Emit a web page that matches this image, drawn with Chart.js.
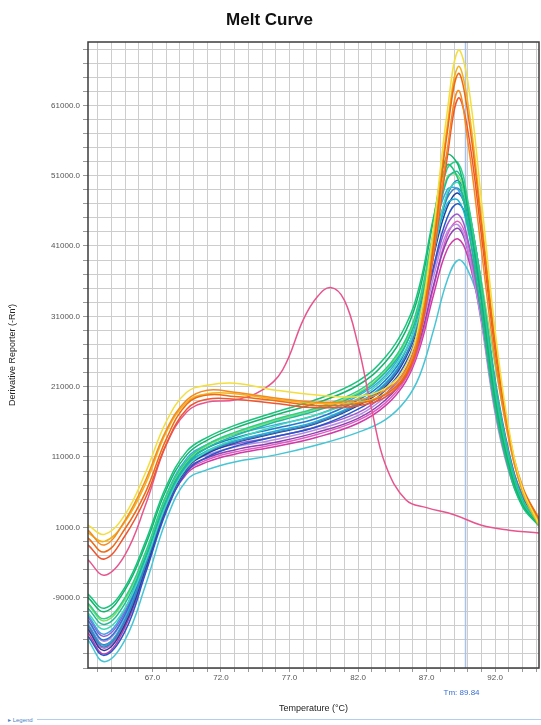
<!DOCTYPE html>
<html>
<head>
<meta charset="utf-8">
<script src="https://cdn.jsdelivr.net/npm/chart.js@4/dist/chart.umd.min.js"></script>
<style>
  html, body { margin: 0; padding: 0; background: #fff; }
  #wrap { width: 541px; height: 714px; position: relative; }
  #legendBar { width: 541px; height: 11px; display: flex; align-items: center; font: 6px "Liberation Sans", Arial, sans-serif; color: #4a7fc8; }
  #legendBar .lbl { padding: 0 4px 0 8px; }
  #legendBar .rule { flex: 1; height: 0; border-top: 1px solid #b3cdee; }
</style>
</head>
<body>
<div id="wrap"><canvas id="meltChart" width="541" height="714"></canvas></div>
<div id="legendBar"><span class="lbl">&#9656; Legend</span><span class="rule"></span></div>
<script>
// temperature grid shared by the wells (°C)
const temps = [62.3, 63.5, 65, 66.5, 68, 69.5, 71, 73, 76, 79, 82, 84, 85.5, 86.5, 87.5, 88.5, 89.3, 90, 91, 92, 93, 94, 95.2];

// orange / yellow wells
const wellO1 = [600, -1500, 2000, 7700, 14800, 19100, 20500, 20200, 19400, 18800, 19100, 20500, 23400, 29000, 40400, 54600, 63100, 56000, 40400, 24800, 13400, 6300, 2000];
const wellO2 = [-500, -2500, 800, 6000, 13500, 18500, 19800, 19600, 19000, 18300, 18600, 19900, 22800, 28500, 41000, 57000, 65500, 60000, 44000, 27000, 14500, 6800, 2200];
const wellY1 = [1300, 0, 2800, 8800, 16000, 20200, 21200, 21500, 20500, 19800, 19600, 20800, 24000, 30500, 43500, 60000, 68800, 64500, 47500, 29000, 15000, 6500, 1500];
const wellY2 = [200, -1000, 1800, 7200, 14500, 18800, 20000, 20000, 19200, 18600, 18800, 20000, 23000, 29500, 42000, 58000, 66500, 61500, 45000, 27500, 14000, 6000, 1200];
const wellR1 = [-1500, -3500, -200, 5200, 12800, 17800, 19200, 19200, 18600, 18000, 18300, 19500, 22500, 28000, 39500, 53500, 62000, 57500, 42500, 26000, 14000, 6500, 2000];

// green / teal wells
const wellG1 = [-9000, -11000, -7900, -1500, 6300, 11300, 13400, 15100, 17000, 18700, 21200, 24500, 29000, 34700, 44700, 53900, 52500, 46100, 33300, 19100, 9900, 4200, 1300];
const wellG2 = [-9800, -12000, -9000, -2500, 5500, 10500, 12800, 14500, 16400, 18000, 20400, 23500, 27800, 33500, 43000, 52000, 52800, 47500, 35000, 20500, 10500, 4500, 1400];
const wellG3 = [-10500, -12800, -9800, -3200, 4800, 10000, 12300, 14000, 16000, 17600, 19900, 23000, 27000, 32500, 41500, 50500, 51500, 47000, 35500, 21500, 11000, 4800, 1500];
const wellG4 = [-8500, -10500, -7500, -1000, 6800, 11800, 13800, 15500, 17400, 19200, 21800, 25200, 29800, 35500, 45000, 52500, 50500, 44000, 31500, 18000, 9200, 3900, 1200];
const wellG5 = [-11200, -13500, -10500, -3800, 4200, 9500, 11800, 13500, 15400, 17000, 19300, 22300, 26300, 31500, 40000, 48500, 50000, 46000, 35000, 21500, 11200, 5000, 1600];
const wellG6 = [-10000, -12300, -9300, -2800, 5200, 10300, 12600, 14300, 16200, 17800, 20100, 23200, 27500, 33000, 42000, 50800, 51000, 46500, 36000, 24000, 14000, 6500, 2200];

// blue wells
const wellB1 = [-12200, -15000, -11400, -3600, 4900, 10300, 12300, 13700, 15100, 16500, 19100, 21900, 26200, 31900, 41100, 48200, 50300, 46800, 35400, 20500, 10600, 4900, 2000];
const wellB2 = [-13500, -16500, -12800, -4800, 3800, 9400, 11500, 13000, 14400, 15800, 18300, 21000, 25200, 30500, 39500, 46500, 48500, 45500, 35000, 21000, 11000, 5200, 2100];
const wellB3 = [-11500, -14200, -10600, -3000, 5500, 10800, 12800, 14200, 15600, 17000, 19700, 22600, 27000, 33000, 42500, 49000, 49000, 44800, 33500, 19500, 10000, 4600, 1800];
const wellB4 = [-14500, -17200, -13800, -5500, 3200, 8900, 11000, 12500, 13900, 15300, 17800, 20500, 24500, 29500, 38000, 45000, 47000, 44500, 35000, 21500, 11500, 5500, 2300];
const wellB5 = [-12800, -15800, -12000, -4200, 4300, 9800, 11900, 13300, 14700, 16100, 18700, 21500, 25600, 31000, 40000, 47000, 47500, 43500, 33000, 19500, 10200, 4800, 1900];
const wellB6 = [-13000, -16000, -12300, -4400, 4000, 9600, 11700, 13100, 14500, 15900, 18500, 21300, 25500, 31000, 40500, 47800, 49200, 46000, 35800, 22000, 11800, 5500, 2200];

// purple / magenta wells
const wellM1 = [-12900, -15700, -12200, -4300, 4200, 9200, 10900, 12000, 13100, 14500, 16500, 19100, 22600, 27600, 35400, 41800, 43500, 40400, 30500, 17700, 9200, 4200, 1300];
const wellM2 = [-14000, -17000, -13200, -5200, 3500, 8600, 10300, 11400, 12500, 13800, 15800, 18300, 21800, 26500, 34000, 40500, 42000, 39500, 30500, 18000, 9500, 4300, 1400];
const wellM3 = [-11800, -14500, -11000, -3400, 5000, 10000, 11700, 12800, 13900, 15300, 17300, 20000, 23600, 29000, 37500, 44000, 45500, 42000, 31500, 18200, 9400, 4300, 1400];
const wellM4 = [-13200, -16200, -12600, -4700, 3900, 8900, 10600, 11700, 12800, 14200, 16200, 18700, 22200, 27000, 35000, 42500, 44500, 41500, 31000, 18000, 9300, 4300, 1400];
const wellM5 = [-12400, -15200, -11600, -3800, 4600, 9600, 11300, 12400, 13500, 14900, 16900, 19600, 23200, 28300, 36500, 43000, 44000, 40500, 30000, 17200, 8900, 4100, 1300];

// lowest cyan well
const wellC1 = [-15000, -18100, -15000, -7200, 2000, 7700, 9200, 10300, 11300, 12700, 14500, 16300, 19100, 22600, 29000, 36100, 39000, 37600, 31900, 20500, 11300, 4900, 1800];

// pink outlier well (own temperature grid, early peak near 80 °C)
const pinkTemps = [62.3, 63.5, 65, 66.5, 68, 69.5, 71, 73, 75, 76.5, 78, 79, 80, 81, 82, 83, 84, 85.5, 87, 89, 91, 93, 95.2];
const wellPK = [-3600, -5800, -2900, 4200, 12700, 17400, 18800, 19100, 20500, 23400, 30500, 33700, 35100, 33300, 26900, 17700, 9900, 4900, 3800, 2800, 1300, 600, 200];

// axis ticks
const xTickValues = [63, 64, 65, 66, 67, 68, 69, 70, 71, 72, 73, 74, 75, 76, 77, 78, 79, 80, 81, 82, 83, 84, 85, 86, 87, 88, 89, 90, 91, 92, 93, 94, 95];
const xTickLabels = [67, 72, 77, 82, 87, 92];
const yTickValues = [-19000, -17000, -15000, -13000, -11000, -9000, -7000, -5000, -3000, -1000, 1000, 3000, 5000, 7000, 9000, 11000, 13000, 15000, 17000, 19000, 21000, 23000, 25000, 27000, 29000, 31000, 33000, 35000, 37000, 39000, 41000, 43000, 45000, 47000, 49000, 51000, 53000, 55000, 57000, 59000, 61000, 63000, 65000, 67000, 69000];
const yTickLabels = [-9000, 1000, 11000, 21000, 31000, 41000, 51000, 61000];
const tmValue = 89.84;

const wells = [
    [wellY1, '#f3de3c'], [wellO2, '#ef6a12'], [wellO1, '#f58a1f'], [wellY2, '#f2b21a'], [wellR1, '#ee5530'],
    [wellPK, '#e8548c', pinkTemps],
    [wellG4, '#18c47c'], [wellG1, '#12b36e'], [wellG2, '#2bd08a'], [wellG3, '#1abc9c'], [wellG6, '#7fdc6a'], [wellG5, '#3fd9b5'],
    [wellB3, '#3aa6e8'], [wellB1, '#1f78d2'], [wellB6, '#3c82c0'], [wellB5, '#19b3d6'], [wellB2, '#1d3f9e'], [wellB4, '#2756c9'],
    [wellM3, '#9b59d0'], [wellM5, '#b58ae2'], [wellM1, '#8e3fb0'], [wellM4, '#e05ec2'], [wellM2, '#d03aa8'],
    [wellC1, '#45c6d6']
];

const font = '"Liberation Sans", Arial, sans-serif';

const framePlugin = {
    id: 'frame',
    beforeDatasetsDraw(chart) {
        const { ctx, chartArea, scales } = chart;
        const x = scales.x.getPixelForValue(tmValue);
        ctx.save();
        ctx.strokeStyle = '#a9c2ea';
        ctx.lineWidth = 1.5;
        ctx.beginPath();
        ctx.moveTo(x, chartArea.top);
        ctx.lineTo(x, chartArea.bottom);
        ctx.stroke();
        ctx.restore();
    },
    afterDraw(chart) {
        const { ctx, chartArea, scales } = chart;
        ctx.save();
        ctx.strokeStyle = '#3c3c3c';
        ctx.lineWidth = 1.5;
        ctx.strokeRect(chartArea.left, chartArea.top, chartArea.right - chartArea.left, chartArea.bottom - chartArea.top);
        ctx.fillStyle = '#3a6fd0';
        ctx.font = '8px ' + font;
        ctx.textAlign = 'center';
        ctx.textBaseline = 'middle';
        ctx.fillText('Tm: ' + tmValue.toFixed(2), scales.x.getPixelForValue(tmValue) - 4, chartArea.bottom + 25);
        ctx.restore();
    }
};

new Chart(document.getElementById('meltChart'), {
    type: 'line',
    data: {
        datasets: wells.map(w => ({
            data: w[0].map((v, i) => ({ x: (w[2] || temps)[i], y: v })),
            borderColor: w[1],
            borderWidth: 1.5,
            pointRadius: 0,
            fill: false,
            tension: 0.4
        }))
    },
    options: {
        responsive: false,
        animation: false,
        layout: { padding: { left: 0, right: 2, top: 0, bottom: 0 } },
        plugins: {
            legend: { display: false },
            tooltip: { enabled: false },
            title: {
                display: true,
                text: 'Melt Curve',
                color: '#111',
                font: { family: font, size: 17, weight: 'bold' },
                padding: { top: 10, bottom: 11.6 }
            }
        },
        scales: {
            x: {
                type: 'linear',
                min: 62.3,
                max: 95.2,
                afterBuildTicks: s => { s.ticks = xTickValues.map(v => ({ value: v })); },
                afterFit: s => { s.height = 46; },
                grid: { color: '#cdcdcd', tickLength: 4, tickColor: '#999' },
                border: { display: false },
                ticks: {
                    autoSkip: false,
                    maxRotation: 0,
                    padding: 1,
                    color: '#555',
                    font: { family: font, size: 8 },
                    callback: v => xTickLabels.includes(v) ? v.toFixed(1) : ''
                },
                title: {
                    display: true,
                    text: 'Temperature (°C)',
                    color: '#222',
                    font: { family: font, size: 9 },
                    padding: { top: 0, bottom: 0 }
                }
            },
            y: {
                min: -19000,
                max: 70000,
                afterBuildTicks: s => { s.ticks = yTickValues.map(v => ({ value: v })); },
                afterFit: s => { s.width = 88; },
                grid: { color: '#cdcdcd', tickLength: 5, tickColor: '#999' },
                border: { display: false },
                ticks: {
                    autoSkip: false,
                    padding: 3,
                    color: '#555',
                    font: { family: font, size: 8 },
                    callback: v => yTickLabels.includes(v) ? v.toFixed(1) : ''
                },
                title: {
                    display: true,
                    text: "Derivative Reporter (-Rn')",
                    color: '#222',
                    font: { family: font, size: 9 },
                    padding: { top: 7, bottom: 0 }
                }
            }
        }
    },
    plugins: [framePlugin]
});
</script>
</body>
</html>
